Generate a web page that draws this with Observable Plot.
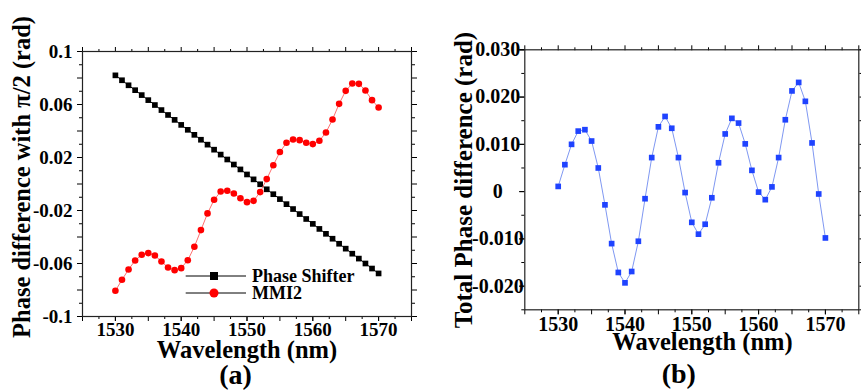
<!DOCTYPE html>
<html>
<head>
<meta charset="utf-8">
<script src="https://cdn.jsdelivr.net/npm/d3@7"></script>
<script src="https://cdn.jsdelivr.net/npm/@observablehq/plot@0.6"></script>
<style>
  body { margin: 0; background: #fff; }
  #wrap { position: relative; width: 861px; height: 391px; background: #fff; overflow: hidden; }
  #wrap svg { position: absolute; top: 0; }
</style>
</head>
<body>
<div id="wrap"></div>
<script>
const wavelength = [1530,1531,1532,1533,1534,1535,1536,1537,1538,1539,1540,1541,1542,1543,1544,1545,1546,1547,1548,1549,1550,1551,1552,1553,1554,1555,1556,1557,1558,1559,1560,1561,1562,1563,1564,1565,1566,1567,1568,1569,1570];
const phaseShifter = [0.0820,0.0783,0.0745,0.0708,0.0671,0.0633,0.0596,0.0558,0.0521,0.0484,0.0446,0.0409,0.0371,0.0334,0.0297,0.0259,0.0222,0.0185,0.0147,0.0110,0.0072,0.0035,-0.0002,-0.0040,-0.0077,-0.0114,-0.0152,-0.0189,-0.0227,-0.0264,-0.0301,-0.0339,-0.0376,-0.0413,-0.0451,-0.0488,-0.0526,-0.0563,-0.0600,-0.0638,-0.0675];
const mmi2 = [-0.0806,-0.0723,-0.0645,-0.0577,-0.0534,-0.0522,-0.0540,-0.0585,-0.0630,-0.0650,-0.0635,-0.0575,-0.0474,-0.0348,-0.0222,-0.0119,-0.0057,-0.0051,-0.0072,-0.0107,-0.0137,-0.0127,-0.0061,0.0037,0.0142,0.0241,0.0311,0.0336,0.0331,0.0311,0.0301,0.0326,0.0389,0.0487,0.0605,0.0703,0.0758,0.0756,0.0706,0.0633,0.0577];
const totalPhase = [0.0011,0.0057,0.0100,0.0128,0.0131,0.0107,0.0050,-0.0028,-0.0110,-0.0171,-0.0193,-0.0169,-0.0105,-0.0015,0.0072,0.0137,0.0159,0.0134,0.0072,-0.0002,-0.0065,-0.0090,-0.0069,-0.0013,0.0061,0.0122,0.0155,0.0145,0.0101,0.0045,-0.0001,-0.0017,0.0010,0.0072,0.0152,0.0213,0.0231,0.0191,0.0103,-0.0005,-0.0098];

const xLabelTicks = [1530,1540,1550,1560,1570];
const xMajorTicks = [1525,1530,1535,1540,1545,1550,1555,1560,1565,1570,1575];
const xMinorTicks = [1527.5,1532.5,1537.5,1542.5,1547.5,1552.5,1557.5,1562.5,1567.5,1572.5];
const yLeftLabelTicks = [0.1,0.06,0.02,-0.02,-0.06,-0.1];
const yLeftMajorTicks = [0.1,0.08,0.06,0.04,0.02,0,-0.02,-0.04,-0.06,-0.08,-0.1];
const yLeftMinorTicks = [0.09,0.07,0.05,0.03,0.01,-0.01,-0.03,-0.05,-0.07,-0.09];
const yRightLabelTicks = [0.03,0.02,0.01,0,-0.01,-0.02];
const yRightLabelText = ["0.030","0.020","0.010","0","-0.010","-0.020"];
const yRightMinorTicks = [0.025,0.015,0.005,-0.005,-0.015,-0.025];

const leftTitleY = "Phase difference with π/2 (rad)";
const rightTitleY = "Total Phase difference (rad)";
const titleX = "Wavelength (nm)";
const legendNames = ["Phase Shifter", "MMI2"];

const FONT = "'Liberation Serif', 'Times New Roman', 'DejaVu Serif', serif";
const blank = () => "";

const dsPS = wavelength.map((w, i) => ({w, v: phaseShifter[i]}));
const dsMMI = wavelength.map((w, i) => ({w, v: mmi2[i]}));
const dsTot = wavelength.map((w, i) => ({w, v: totalPhase[i]}));

function frameAxes(yl, ylMajor, ylMinor, yfmt, yopts, xopts) {
  return [
    Plot.axisX(xLabelTicks, {anchor: "bottom", tickSize: 5, tickPadding: xopts.pad, fontSize: xopts.fs, fontWeight: "bold", tickFormat: d => String(d), label: null}),
    Plot.axisX(xMajorTicks, {anchor: "bottom", tickSize: 5, tickFormat: blank, label: null}),
    Plot.axisX(xMinorTicks, {anchor: "bottom", tickSize: 3, tickFormat: blank, label: null}),
    Plot.axisX(xMajorTicks, {anchor: "top", tickSize: 5, tickFormat: blank, label: null}),
    Plot.axisX(xMinorTicks, {anchor: "top", tickSize: 3, tickFormat: blank, label: null}),
    Plot.axisY(yl, {anchor: "left", tickSize: 5, tickPadding: yopts.pad, textAnchor: yopts.anchor, fontSize: yopts.fs, fontWeight: "bold", tickFormat: yfmt, label: null}),
    Plot.axisY(ylMajor, {anchor: "left", tickSize: 5, tickFormat: blank, label: null}),
    Plot.axisY(ylMinor, {anchor: "left", tickSize: 3, tickFormat: blank, label: null}),
    Plot.axisY(ylMajor, {anchor: "right", tickSize: 5, tickFormat: blank, label: null}),
    Plot.axisY(ylMinor, {anchor: "right", tickSize: 3, tickFormat: blank, label: null}),
    Plot.frame({stroke: "#222", strokeWidth: 1.2})
  ];
}

const left = Plot.plot({
  width: 430, height: 391,
  marginLeft: 82, marginRight: 19, marginTop: 51, marginBottom: 75,
  x: {domain: [1525, 1575]},
  y: {domain: [-0.1, 0.1]},
  style: {fontFamily: FONT, fontWeight: "bold", background: "transparent", color: "black", overflow: "visible"},
  marks: [
    ...frameAxes(yLeftLabelTicks, yLeftMajorTicks, yLeftMinorTicks, d => String(d), {pad: 5, anchor: "end", fs: 19}, {pad: 1, fs: 19}),
    Plot.line(dsPS, {x: "w", y: "v", stroke: "black", strokeWidth: 1}),
    Plot.dot(dsPS, {x: "w", y: "v", symbol: "square", r: 3.2, fill: "black", stroke: "none"}),
    Plot.line(dsMMI, {x: "w", y: "v", stroke: "#ff7070", strokeWidth: 1}),
    Plot.dot(dsMMI, {x: "w", y: "v", symbol: "circle", r: 3.3, fill: "#ff0000", stroke: "none"}),
    Plot.text([titleX], {frameAnchor: "bottom", textAnchor: "middle", lineAnchor: "middle", dy: 33.5, fontSize: 24.5, fontWeight: "bold", fill: "black"}),
    Plot.text(["(a)"], {frameAnchor: "bottom", textAnchor: "middle", lineAnchor: "middle", dx: -11.5, dy: 58.5, fontSize: 28, fontWeight: "bold", fill: "black"}),
    Plot.text([leftTitleY], {frameAnchor: "left", textAnchor: "middle", lineAnchor: "middle", rotate: -90, dx: -60, dy: -7, fontSize: 24.5, fontWeight: "bold", fill: "black"})
  ]
});

const right = Plot.plot({
  width: 431, height: 391,
  marginLeft: 94.3, marginRight: 2.7, marginTop: 49.3, marginBottom: 81.7,
  x: {domain: [1525, 1575]},
  y: {domain: [-0.025, 0.030]},
  style: {fontFamily: FONT, fontWeight: "bold", background: "transparent", color: "black", overflow: "visible"},
  marks: [
    ...frameAxes(yRightLabelTicks, yRightLabelTicks.concat([0.03]), yRightMinorTicks,
      d => yRightLabelText[yRightLabelTicks.findIndex(t => Math.abs(t - d) < 1e-9)] ?? "",
      {pad: 22, anchor: "middle", fs: 20}, {pad: 2, fs: 20}),
    Plot.line(dsTot, {x: "w", y: "v", stroke: "#7f98f2", strokeWidth: 1}),
    Plot.dot(dsTot, {x: "w", y: "v", symbol: "square", r: 3.2, fill: "#1f43ff", stroke: "none"}),
    Plot.text([titleX], {frameAnchor: "bottom", textAnchor: "middle", lineAnchor: "middle", dx: 10.7, dy: 32, fontSize: 24.5, fontWeight: "bold", fill: "black"}),
    Plot.text(["(b)"], {frameAnchor: "bottom", textAnchor: "middle", lineAnchor: "middle", dx: -13, dy: 64, fontSize: 28, fontWeight: "bold", fill: "black"}),
    Plot.text([rightTitleY], {frameAnchor: "left", textAnchor: "middle", lineAnchor: "middle", rotate: -90, dx: -61.3, dy: 0.3, fontSize: 25, fontWeight: "bold", fill: "black"})
  ]
});

const wrap = document.getElementById("wrap");
left.style.left = "0px";
right.style.left = "430px";
wrap.appendChild(left);
wrap.appendChild(right);

// Legend overlay (left panel)
const ns = "http://www.w3.org/2000/svg";
const leg = document.createElementNS(ns, "svg");
leg.setAttribute("width", 861); leg.setAttribute("height", 391);
leg.style.left = "0px"; leg.style.pointerEvents = "none";
const rows = [
  {name: legendNames[0], y: 276, sym: "square", color: "black"},
  {name: legendNames[1], y: 293, sym: "circle", color: "#ff0000"}
];
for (const r of rows) {
  const ln = document.createElementNS(ns, "line");
  ln.setAttribute("x1", 185.7); ln.setAttribute("x2", 246);
  ln.setAttribute("y1", r.y); ln.setAttribute("y2", r.y);
  ln.setAttribute("stroke", "black"); ln.setAttribute("stroke-width", 1);
  leg.appendChild(ln);
  if (r.sym === "square") {
    const s = document.createElementNS(ns, "rect");
    s.setAttribute("x", 210); s.setAttribute("y", r.y - 4);
    s.setAttribute("width", 8); s.setAttribute("height", 8);
    s.setAttribute("fill", r.color);
    leg.appendChild(s);
  } else {
    const c = document.createElementNS(ns, "circle");
    c.setAttribute("cx", 214); c.setAttribute("cy", r.y); c.setAttribute("r", 4.5);
    c.setAttribute("fill", r.color);
    leg.appendChild(c);
  }
  const t = document.createElementNS(ns, "text");
  t.setAttribute("x", 252); t.setAttribute("y", r.y + 5.5);
  t.setAttribute("font-family", FONT); t.setAttribute("font-weight", "bold");
  t.setAttribute("font-size", 18); t.setAttribute("fill", "black");
  t.textContent = r.name;
  leg.appendChild(t);
}
wrap.appendChild(leg);
</script>
</body>
</html>
